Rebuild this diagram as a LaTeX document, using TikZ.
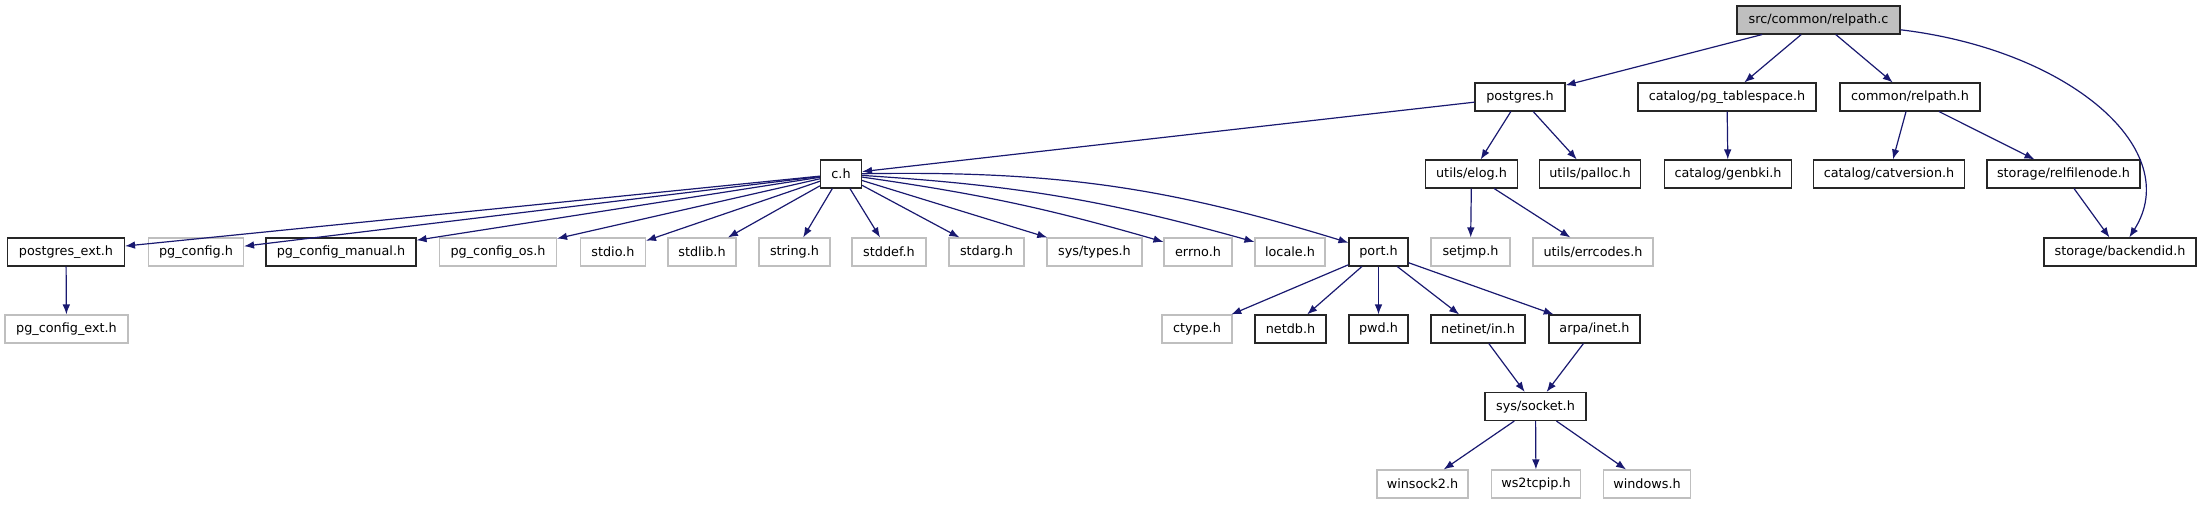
\documentclass[tikz,border=0pt]{standalone}
\usepackage{fontspec}
\setmainfont{DejaVu Sans}
\usetikzlibrary{arrows.meta}
\definecolor{edgeblue}{HTML}{191970}
\definecolor{nodocgray}{HTML}{BFBFBF}
\begin{document}
\begin{tikzpicture}[x=0.5pt, y=-0.5pt,
    box/.style={rectangle, inner xsep=0pt, inner ysep=0pt,
        minimum height=14pt, line width=0.55pt,
        font=\fontsize{6.4}{7.7}\selectfont},
    doc/.style={box, draw=black!85},
    nodoc/.style={box, draw=nodocgray},
    root/.style={box, draw=black!85, fill=nodocgray},
    wd/.style={minimum width=#1*0.5pt},
    dep/.style={draw=edgeblue, line width=0.6pt,
        -{Latex[length=5pt,width=3.8pt]}}
]
    \useasboundingbox (0,0) rectangle (2201,504);

    % top level
    \node[root, wd=163] (relpathc) at (1818.5,20){src/common/relpath.c};

    \node[doc, wd=90] (postgresh) at (1520,97){postgres.h};
    \node[doc, wd=178] (tablespaceh) at (1727,97){catalog/pg\_tablespace.h};
    \node[doc, wd=140] (relpathh) at (1910,97){common/relpath.h};

    \node[doc, wd=41] (ch) at (841,174){c.h};
    \node[doc, wd=92] (elogh) at (1471.5,174){utils/elog.h};
    \node[doc, wd=101] (palloch) at (1590,174){utils/palloc.h};
    \node[doc, wd=127] (genbkih) at (1728,174){catalog/genbki.h};
    \node[doc, wd=151] (catversionh) at (1889,174){catalog/catversion.h};
    \node[doc, wd=153] (relfilenodeh) at (2063.5,174){storage/relfilenode.h};

    % headers of c.h
    \node[doc, wd=117] (postgresexth) at (66,252){postgres\_ext.h};
    \node[nodoc, wd=95] (pgconfigh) at (196,252){pg\_config.h};
    \node[doc, wd=150] (pgconfigmanualh) at (341,252){pg\_config\_manual.h};
    \node[nodoc, wd=117] (pgconfigosh) at (498,252){pg\_config\_os.h};
    \node[nodoc, wd=65] (stdioh) at (613,252){stdio.h};
    \node[nodoc, wd=68] (stdlibh) at (702,252){stdlib.h};
    \node[nodoc, wd=71] (stringh) at (794.5,252){string.h};
    \node[nodoc, wd=74] (stddefh) at (889,252){stddef.h};
    \node[nodoc, wd=75] (stdargh) at (986.5,252){stdarg.h};
    \node[nodoc, wd=95] (systypesh) at (1094.5,252){sys/types.h};
    \node[nodoc, wd=68] (errnoh) at (1198,252){errno.h};
    \node[nodoc, wd=70] (localeh) at (1290,252){locale.h};
    \node[doc, wd=59] (porth) at (1378.5,252){port.h};
    \node[nodoc, wd=79] (setjmph) at (1470.5,252){setjmp.h};
    \node[nodoc, wd=120] (errcodesh) at (1593,252){utils/errcodes.h};
    \node[doc, wd=152] (backendidh) at (2120,252){storage/backendid.h};

    \node[nodoc, wd=123] (pgconfigexth) at (66.5,329){pg\_config\_ext.h};
    \node[nodoc, wd=70] (ctypeh) at (1197,329){ctype.h};
    \node[doc, wd=71] (netdbh) at (1290.5,329){netdb.h};
    \node[doc, wd=59] (pwdh) at (1378.5,329){pwd.h};
    \node[doc, wd=94] (netinetinh) at (1478,329){netinet/in.h};
    \node[doc, wd=91] (arpaineth) at (1594.5,329){arpa/inet.h};

    \node[doc, wd=101] (syssocketh) at (1535.5,406.5){sys/socket.h};

    \node[nodoc, wd=91] (winsockh) at (1422.5,484){winsock2.h};
    \node[nodoc, wd=89.5] (wstcpiph) at (1536,484){ws2tcpip.h};
    \node[nodoc, wd=86.5] (windowsh) at (1647,484){windows.h};

    % includes
    \draw[dep] (relpathc) -- (postgresh);
    \draw[dep] (relpathc) -- (tablespaceh);
    \draw[dep] (relpathc) -- (relpathh);
    \draw[dep] (relpathc) .. controls (2070,50) and (2185,150) .. (backendidh);

    \draw[dep] (postgresh) -- (ch);
    \draw[dep] (postgresh) -- (elogh);
    \draw[dep] (postgresh) -- (palloch);
    \draw[dep] (tablespaceh) -- (genbkih);
    \draw[dep] (relpathh) -- (catversionh);
    \draw[dep] (relpathh) -- (relfilenodeh);
    \draw[dep] (relfilenodeh) -- (backendidh);

    \draw[dep] (ch) -- (postgresexth);
    \draw[dep] (ch) -- (pgconfigh);
    \draw[dep] (ch) -- (pgconfigmanualh);
    \draw[dep] (ch) -- (pgconfigosh);
    \draw[dep] (ch) -- (stdioh);
    \draw[dep] (ch) -- (stdlibh);
    \draw[dep] (ch) -- (stringh);
    \draw[dep] (ch) -- (stddefh);
    \draw[dep] (ch) -- (stdargh);
    \draw[dep] (ch) -- (systypesh);
    \draw[dep] (ch) to[bend left=4] (errnoh);
    \draw[dep] (ch) to[bend left=6] (localeh);
    \draw[dep] (ch) to[bend left=9] (porth);

    \draw[dep] (postgresexth) -- (pgconfigexth);
    \draw[dep] (elogh) -- (setjmph);
    \draw[dep] (elogh) -- (errcodesh);

    \draw[dep] (porth) -- (ctypeh);
    \draw[dep] (porth) -- (netdbh);
    \draw[dep] (porth) -- (pwdh);
    \draw[dep] (porth) -- (netinetinh);
    \draw[dep] (porth) -- (arpaineth);

    \draw[dep] (netinetinh) -- (syssocketh);
    \draw[dep] (arpaineth) -- (syssocketh);

    \draw[dep] (syssocketh) -- (winsockh);
    \draw[dep] (syssocketh) -- (wstcpiph);
    \draw[dep] (syssocketh) -- (windowsh);

\end{tikzpicture}
\end{document}
